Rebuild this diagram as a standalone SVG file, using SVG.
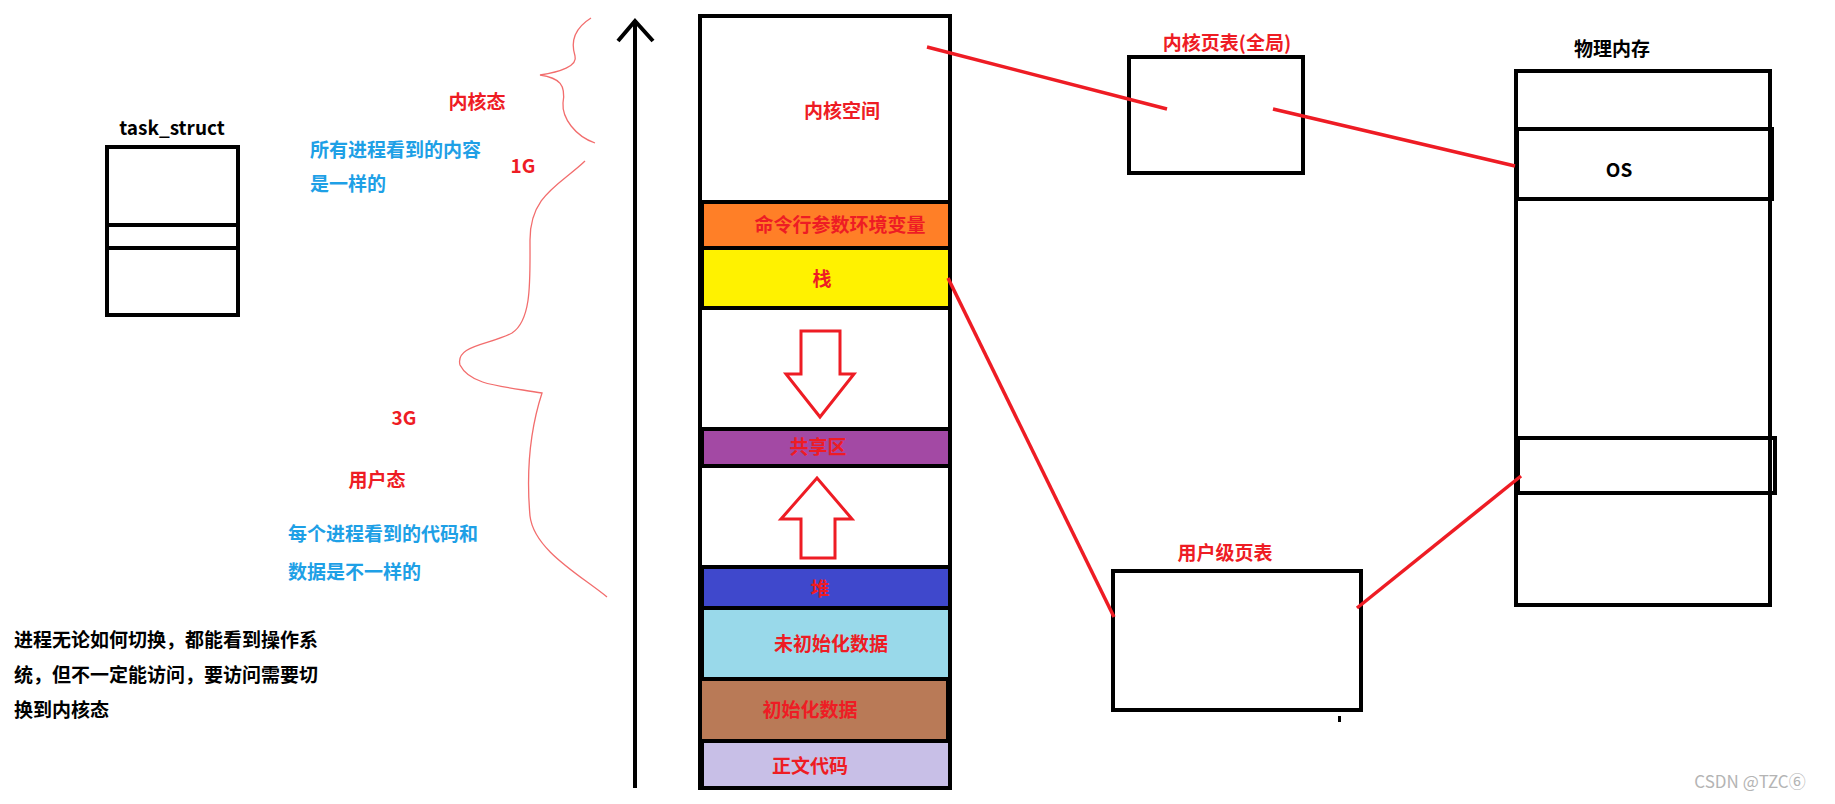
<svg xmlns="http://www.w3.org/2000/svg" width="1835" height="804" viewBox="0 0 1835 804">
<style>
text{font-family:"Noto Sans CJK SC","Noto Sans",sans-serif;font-weight:bold;font-size:19px}
.r{fill:#ee1c24}.b{fill:#1ea0e6}.k{fill:#000}
.box{fill:none;stroke:#000;stroke-width:4}
.seg{stroke:#000;stroke-width:4}
.red{stroke:#ee1c24;stroke-width:3.5;fill:none}
.brace{stroke:#f26d6d;stroke-width:1.3;fill:none}
</style>
<rect width="1835" height="804" fill="#fff"/>
<g id="task_struct">
<text x="172" y="135" text-anchor="middle" class="k">task_struct</text>
<rect class="box" x="107" y="147" width="131" height="168"/>
<line class="seg" x1="107" y1="225" x2="238" y2="225"/>
<line class="seg" x1="107" y1="248" x2="238" y2="248"/>
</g>
<g id="labels">
<text x="477" y="109" text-anchor="middle" class="r">内核态</text>
<text x="310" y="157" class="b">所有进程看到的内容</text>
<text x="310" y="191" class="b">是一样的</text>
<text x="523" y="173" text-anchor="middle" class="r">1G</text>
<text x="404" y="425" text-anchor="middle" class="r">3G</text>
<text x="377" y="487" text-anchor="middle" class="r">用户态</text>
<text x="288" y="541" class="b">每个进程看到的代码和</text>
<text x="288" y="579" class="b">数据是不一样的</text>
<text x="14" y="647" class="k">进程无论如何切换，都能看到操作系</text>
<text x="14" y="682" class="k">统，但不一定能访问，要访问需要切</text>
<text x="14" y="717" class="k">换到内核态</text>
<path class="brace" d="M591,18 C575,28 570,40 575,56 C578,66 560,72 540,75 C560,78 566,85 563,103 C562,118 575,136 595,143"/>
<path class="brace" d="M585,161 C560,185 530,195 530,240 C530,280 532,320 512,333 C490,345 455,345 460,365 C470,385 500,386 542,393 C530,430 526,470 530,516 C534,550 580,575 607,597"/>
</g>
<g id="axis">
<line x1="635" y1="20" x2="635" y2="788" stroke="#000" stroke-width="4"/>
<polyline points="618,41 635,21 653,41" fill="none" stroke="#000" stroke-width="4"/>
</g>
<g id="address_space">
<rect x="700" y="16" width="250" height="772" fill="#fff" stroke="#000" stroke-width="4"/>
<text x="842" y="118" text-anchor="middle" class="r">内核空间</text>
<rect x="702" y="202" width="248" height="46" fill="#ff7f27" stroke="#000" stroke-width="4"/>
<text x="840" y="232" text-anchor="middle" class="r">命令行参数环境变量</text>
<rect x="702" y="248" width="248" height="60" fill="#fff200" stroke="#000" stroke-width="4"/>
<text x="822" y="286" text-anchor="middle" class="r">栈</text>
<path d="M801,331 H840 V374 H854 L820,417 L786,374 H801 Z" fill="#fff" stroke="#ee1c24" stroke-width="3"/>
<rect x="702" y="429" width="248" height="37" fill="#a349a4" stroke="#000" stroke-width="4"/>
<text x="818" y="454" text-anchor="middle" class="r">共享区</text>
<path d="M801,558 H835 V519 H852 L817,478 L781,519 H801 Z" fill="#fff" stroke="#ee1c24" stroke-width="3"/>
<rect x="702" y="567" width="248" height="41" fill="#3f48cc" stroke="#000" stroke-width="4"/>
<text x="820" y="596" text-anchor="middle" class="r">堆</text>
<rect x="702" y="608" width="248" height="71" fill="#99d9ea" stroke="#000" stroke-width="4"/>
<text x="831" y="651" text-anchor="middle" class="r">未初始化数据</text>
<rect x="700" y="679" width="248" height="62" fill="#b97a57" stroke="#000" stroke-width="4"/>
<text x="810" y="717" text-anchor="middle" class="r">初始化数据</text>
<rect x="702" y="741" width="248" height="47" fill="#c8bfe7" stroke="#000" stroke-width="4"/>
<text x="810" y="773" text-anchor="middle" class="r">正文代码</text>
</g>
<g id="kernel_pt">
<text x="1227" y="50" text-anchor="middle" class="r">内核页表(全局)</text>
<rect class="box" x="1129" y="57" width="174" height="116"/>
</g>
<g id="user_pt">
<text x="1225" y="560" text-anchor="middle" class="r">用户级页表</text>
<rect class="box" x="1113" y="571" width="248" height="139"/>
<rect x="1338" y="716" width="3" height="6" fill="#000"/>
</g>
<g id="phys_mem">
<text x="1612" y="56" text-anchor="middle" class="k">物理内存</text>
<rect class="box" x="1516" y="71" width="254" height="534"/>
<rect class="box" x="1517" y="129" width="255" height="70"/>
<text x="1619" y="177" text-anchor="middle" class="k">OS</text>
<rect class="box" x="1518" y="438" width="257" height="55"/>
</g>
<g id="connectors">
<line class="red" x1="927" y1="47" x2="1167" y2="109"/>
<line class="red" x1="1273" y1="109" x2="1515" y2="166"/>
<line class="red" x1="948" y1="278" x2="1114" y2="617"/>
<line class="red" x1="1357" y1="608" x2="1521" y2="476"/>
</g>
<text x="1750" y="788" text-anchor="middle" style="font-weight:normal;font-size:17px;fill:#b4b4b4">CSDN @TZC⑥</text>
</svg>
